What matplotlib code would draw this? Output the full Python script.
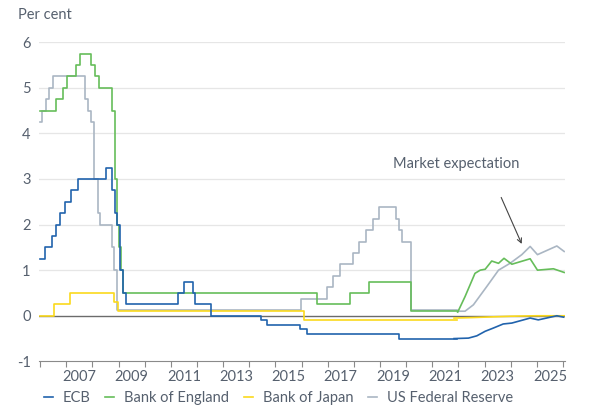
import matplotlib
matplotlib.use("Agg")
import matplotlib.pyplot as plt

plt.rcParams['font.family'] = ['Lato', 'DejaVu Sans']

# ---- Historical policy rates (change dates as decimal years, value from that date) ----
ecb_dates = [2006.0, 2006.19, 2006.45, 2006.61, 2006.78, 2006.95, 2007.19, 2007.45, 2008.53,
             2008.77, 2008.86, 2008.94, 2009.05, 2009.19, 2009.27, 2011.27, 2011.52, 2011.86,
             2011.94, 2012.53, 2014.44, 2014.69, 2015.93, 2016.21, 2019.72, 2021.93]
ecb_vals = [1.25, 1.5, 1.75, 2.0, 2.25, 2.5, 2.75, 3.0, 3.25,
            2.75, 2.25, 2.0, 1.0, 0.5, 0.25, 0.5, 0.75, 0.5,
            0.25, 0.0, -0.1, -0.2, -0.3, -0.4, -0.5, -0.5]

boe_dates = [2006.0, 2006.6, 2006.86, 2007.03, 2007.36, 2007.52, 2007.93, 2008.1, 2008.27,
             2008.77, 2008.85, 2008.93, 2009.02, 2009.1, 2009.18, 2016.6, 2017.84, 2018.59,
             2020.2, 2021.96]
boe_vals = [4.5, 4.75, 5.0, 5.25, 5.5, 5.75, 5.5, 5.25, 5.0,
            4.5, 3.0, 2.0, 1.5, 1.0, 0.5, 0.25, 0.5, 0.75,
            0.1, 0.1]

boj_dates = [2006.0, 2006.53, 2007.14, 2008.83, 2008.97, 2016.08, 2021.93]
boj_vals = [0.0, 0.25, 0.5, 0.3, 0.1, -0.1, -0.1]

fed_dates = [2006.0, 2006.08, 2006.23, 2006.36, 2006.5, 2007.72, 2007.83, 2007.95, 2008.07,
             2008.2, 2008.31, 2008.77, 2008.83, 2008.96, 2015.96, 2016.96, 2017.21, 2017.46,
             2017.96, 2018.21, 2018.47, 2018.72, 2018.97, 2019.6, 2019.72, 2019.83, 2020.19,
             2021.96]
fed_vals = [4.25, 4.5, 4.75, 5.0, 5.25, 4.75, 4.5, 4.25, 3.0,
            2.25, 2.0, 1.5, 1.0, 0.125, 0.375, 0.625, 0.875, 1.125,
            1.375, 1.625, 1.875, 2.125, 2.375, 2.125, 1.875, 1.625, 0.125,
            0.125]

# ---- Market expectations ----
ecb_exp_x = [2021.83, 2022.38, 2022.7, 2023.02, 2023.33, 2023.71, 2024.04, 2024.74, 2025.05, 2025.76, 2026.02]
ecb_exp_y = [-0.5, -0.49, -0.44, -0.34, -0.27, -0.18, -0.16, -0.05, -0.09, 0.0, -0.03]

boe_exp_x = [2021.97, 2022.25, 2022.63, 2022.83, 2023.02, 2023.27, 2023.53, 2023.74, 2024.04, 2024.74, 2025.02, 2025.63, 2026.04]
boe_exp_y = [0.08, 0.42, 0.93, 1.0, 1.02, 1.2, 1.15, 1.26, 1.13, 1.25, 1.0, 1.03, 0.95]

boj_exp_x = [2021.83, 2022.5, 2023.0, 2024.0, 2025.0, 2026.04]
boj_exp_y = [-0.05, -0.04, -0.03, -0.01, 0.0, 0.0]

fed_exp_x = [2021.96, 2022.25, 2022.57, 2023.08, 2023.53, 2023.97, 2024.42, 2024.74, 2025.02, 2025.76, 2026.04]
fed_exp_y = [0.1, 0.1, 0.24, 0.64, 1.0, 1.15, 1.34, 1.52, 1.34, 1.53, 1.41]

labels = ["ECB", "Bank of England", "Bank of Japan", "US Federal Reserve"]
colors = ["#2163ad", "#66bd5a", "#fbd91c", "#aab6c3"]

year_ticks = list(range(2006, 2027))
year_labels = [2007, 2009, 2011, 2013, 2015, 2017, 2019, 2021, 2023, 2025]
y_ticks = [-1, 0, 1, 2, 3, 4, 5, 6]

txt = "#56606e"

fig = plt.figure(figsize=(6.0, 4.13), dpi=100)
ax = fig.add_axes([0.065, 0.125, 0.877, 0.773])

for yv in y_ticks:
    if yv in (-1, 0):
        continue
    ax.axhline(yv, color="#e6e6e6", lw=0.9, zorder=0)
ax.axhline(0, color="#6b6b6b", lw=1.0, zorder=1)

hist = [(ecb_dates, ecb_vals), (boe_dates, boe_vals), (boj_dates, boj_vals), (fed_dates, fed_vals)]
exps = [(ecb_exp_x, ecb_exp_y), (boe_exp_x, boe_exp_y), (boj_exp_x, boj_exp_y), (fed_exp_x, fed_exp_y)]
order = [3, 2, 1, 0]
handles = {}
for i in order:
    d, v = hist[i]
    ln, = ax.step(d, v, where="post", color=colors[i], lw=1.2, zorder=2 + (3 - i) * 0.1)
    handles[i] = ln
    ex, ey = exps[i]
    ax.plot(ex, ey, color=colors[i], lw=1.2, zorder=2 + (3 - i) * 0.1)

ax.set_xlim(2005.96, 2026.08)
ax.set_ylim(-1, 6.0)

ax.set_xticks(year_ticks)
ax.set_xticklabels([])
ax.set_xticks([y + 0.5 for y in year_labels], minor=True)
ax.set_xticklabels([str(y) for y in year_labels], minor=True)
ax.tick_params(axis="x", which="major", length=4, width=0.8, color="#8a8a8a", direction="out")
ax.tick_params(axis="x", which="minor", length=0, pad=6, labelsize=10.5, labelcolor=txt)

ax.set_yticks(y_ticks)
ax.set_yticklabels([str(y) for y in y_ticks])
ax.tick_params(axis="y", length=0, pad=6, labelsize=10.5, labelcolor=txt)

for s in ["top", "right", "left"]:
    ax.spines[s].set_visible(False)
ax.spines["bottom"].set_color("#8a8a8a")
ax.spines["bottom"].set_linewidth(0.8)

fig.text(0.03, 0.963, "Per cent", fontsize=10.5, color=txt, ha="left", va="center")

ax.text(2019.5, 3.33, "Market expectation", fontsize=10.5, color=txt, ha="left", va="center")
ax.annotate("", xy=(2024.46, 1.52), xytext=(2023.59, 2.65),
            arrowprops=dict(arrowstyle="->", color="#444444", lw=0.8, mutation_scale=8))

fig.legend([handles[i] for i in range(4)], labels, loc="center", bbox_to_anchor=(0.464, 0.036),
           ncol=4, frameon=False, handlelength=0.6, handletextpad=0.7, columnspacing=1.0,
           fontsize=10.5, labelcolor=txt)

fig.savefig("out.png", dpi=100)
